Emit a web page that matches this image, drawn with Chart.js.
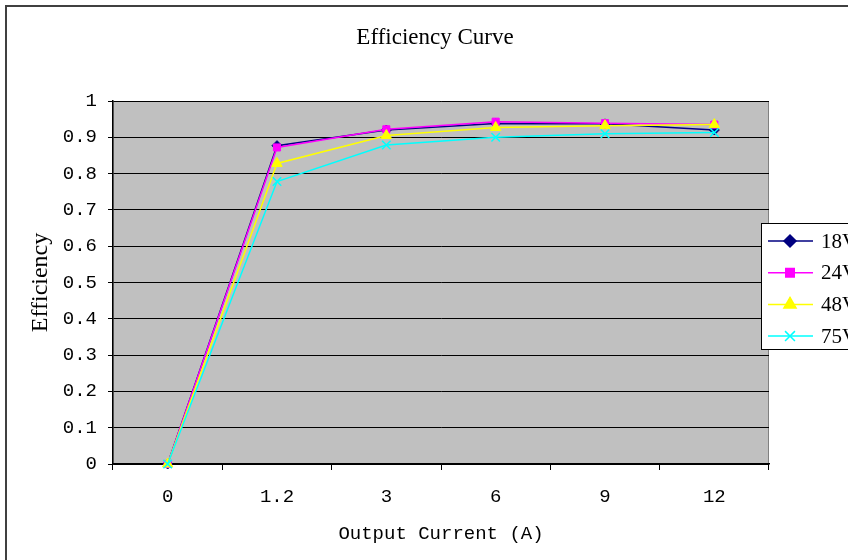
<!DOCTYPE html>
<html lang="en">
<head>
  <meta charset="UTF-8">
  <title>Efficiency Curve</title>
  <script src="https://cdn.jsdelivr.net/npm/chart.js"></script>
  <style>
    body { margin: 0; background: #fff; }
    #wrap { width: 848px; height: 560px; }
  </style>
</head>
<body>
  <div id="wrap"><canvas id="myChart" width="848" height="560"></canvas></div>

  <script>
    const labels = ['0', '1.2', '3', '6', '9', '12'];
    const v18 = [0, 0.877, 0.920, 0.938, 0.937, 0.920];
    const v24 = [0, 0.872, 0.922, 0.943, 0.939, 0.935];
    const v48 = [0, 0.828, 0.905, 0.927, 0.932, 0.935];
    const v75 = [0, 0.778, 0.879, 0.900, 0.910, 0.913];
    const names = ['18V', '24V', '48V', '75V'];
    const yTicks = [0, 0.1, 0.2, 0.3, 0.4, 0.5, 0.6, 0.7, 0.8, 0.9, 1];

    const mono = '"Liberation Mono", monospace';
    const serif = '"Liberation Serif", serif';

    function series(name, values, color, style, radius, order) {
      return {
        label: name, data: values, borderColor: color, backgroundColor: color,
        borderWidth: 1.5, pointStyle: style, pointRadius: radius, pointHoverRadius: radius,
        pointBorderWidth: style === 'crossRot' ? 1.5 : 1, tension: 0, order: order, clip: false
      };
    }

    const frame = {
      id: 'frame',
      beforeDraw(chart) {
        const c = chart.ctx, a = chart.chartArea;
        c.save();
        c.fillStyle = '#fff';
        c.fillRect(0, 0, chart.width, chart.height);
        c.fillStyle = '#c0c0c0';
        c.fillRect(a.left, a.top, a.right - a.left, a.bottom - a.top);
        c.strokeStyle = '#808080';
        c.lineWidth = 1;
        c.strokeRect(a.left, a.top + 0.5, a.right - a.left - 0.5, a.bottom - a.top);
        c.strokeStyle = '#404040';
        c.lineWidth = 2;
        c.beginPath();
        c.moveTo(6, chart.height);
        c.lineTo(6, 6);
        c.lineTo(chart.width, 6);
        c.stroke();
        c.fillStyle = '#000';
        c.font = '23px ' + serif;
        c.textAlign = 'center';
        c.textBaseline = 'middle';
        c.fillText('Efficiency Curve', 435, 38);
        c.restore();
      },
      afterDraw(chart) {
        const c = chart.ctx;
        c.save();
        c.fillStyle = '#fff';
        c.strokeStyle = '#000';
        c.lineWidth = 1;
        c.fillRect(761, 223, 100, 127);
        c.strokeRect(761.5, 223.5, 100, 126);
        chart.data.datasets.forEach((ds, i) => {
          const y = 241 + i * 31.7;
          c.strokeStyle = ds.borderColor;
          c.lineWidth = 1.5;
          c.beginPath();
          c.moveTo(768, y);
          c.lineTo(813, y);
          c.stroke();
          Chart.helpers.drawPoint(c, {
            pointStyle: ds.pointStyle, radius: ds.pointRadius + 1, rotation: 0,
            borderWidth: ds.pointBorderWidth
          }, 790, y);
          c.fillStyle = ds.backgroundColor;
          c.strokeStyle = ds.borderColor;
          c.fill();
          c.fillStyle = '#000';
          c.font = '21px ' + serif;
          c.textAlign = 'left';
          c.textBaseline = 'middle';
          c.fillText(ds.label, 821, y + 1);
        });
        c.restore();
      }
    };

    const config = {
      type: 'line',
      data: {
        labels: labels,
        datasets: [
          series(names[0], v18, '#000080', 'rectRot', 5, 4),
          series(names[1], v24, '#ff00ff', 'rect', 5, 3),
          series(names[2], v48, '#ffff00', 'triangle', 6, 2),
          series(names[3], v75, '#00ffff', 'crossRot', 6, 1)
        ]
      },
      options: {
        responsive: false,
        animation: false,
        layout: { padding: { top: 101, right: 79, left: 0, bottom: 0 } },
        plugins: { legend: { display: false }, title: { display: false }, tooltip: { enabled: false } },
        scales: {
          x: {
            offset: true,
            afterFit: s => { s.height = 96; },
            grid: { offset: true, drawOnChartArea: false, drawTicks: true, tickLength: 6, color: '#000' },
            border: { color: '#000', width: 1.5 },
            ticks: { color: '#000', font: { family: mono, size: 19 }, padding: 16 },
            title: { display: true, text: 'Output Current (A)', color: '#000',
                     font: { family: mono, size: 19 }, padding: { bottom: 15 } }
          },
          y: {
            min: 0, max: 1,
            afterFit: s => { s.width = 113; },
            afterBuildTicks: s => { s.ticks = yTicks.map(v => ({ value: v })); },
            grid: { color: '#000', lineWidth: 1, drawTicks: true, tickLength: 5 },
            border: { color: '#000', width: 1.5 },
            ticks: { color: '#000', font: { family: mono, size: 19 }, padding: 11,
                     callback: v => (v === 0 || v === 1) ? String(v) : v.toFixed(1) },
            title: { display: true, text: 'Efficiency', color: '#000',
                     font: { family: serif, size: 24 }, padding: { top: 26 } }
          }
        }
      },
      plugins: [frame]
    };

    const ctx = document.getElementById('myChart').getContext('2d');
    const myChart = new Chart(ctx, config);
  </script>
</body>
</html>
